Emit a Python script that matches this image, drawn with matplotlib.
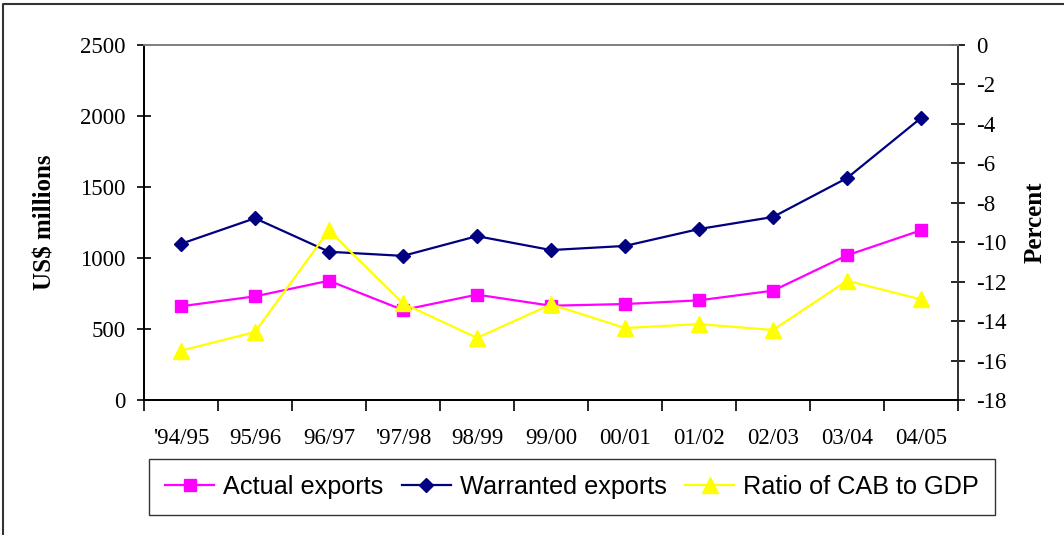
import numpy as np
import matplotlib
matplotlib.use("Agg")
import matplotlib.pyplot as plt
from matplotlib.lines import Line2D

years = ["'94/95", "95/96", "96/97", "'97/98", "98/99", "99/00",
         "00/01", "01/02", "02/03", "03/04", "04/05"]
actual_exports = [660, 730, 840, 634, 742, 664, 676, 702, 770, 1019, 1195]
warranted_exports = [1100, 1280, 1044, 1015, 1154, 1056, 1085, 1204, 1289, 1563, 1986]
cab_ratio = [-15.5, -14.55, -9.4, -13.1, -14.85, -13.15, -14.35, -14.15, -14.45, -11.95, -12.9]

left_ticks = [0, 500, 1000, 1500, 2000, 2500]
right_ticks = [0, -2, -4, -6, -8, -10, -12, -14, -16, -18]


def set_style():
    rc = {
        "font.family": ["Liberation Serif", "DejaVu Serif"],
        "axes.unicode_minus": False,
        "axes.linewidth": 1.3,
        "xtick.major.width": 1.2,
        "ytick.major.width": 1.2,
        "xtick.minor.width": 1.2,
    }
    plt.rcParams.update(rc)


def make_chart():
    set_style()
    fig = plt.figure(figsize=(10.64, 5.35), dpi=100)
    ax = fig.add_axes([0.1353, 0.2523, 0.7651, 0.6636])
    ax2 = ax.twinx()

    x = np.arange(len(years))

    l1, = ax.plot(x, actual_exports, color="#FF00FF", lw=1.6, marker="s",
                  ms=9, label="Actual exports")
    l2, = ax.plot(x, warranted_exports, color="#000080", lw=1.6, marker="D",
                  ms=7.5, label="Warranted exports")
    l3, = ax2.plot(x, cab_ratio, color="#FFFF00", lw=1.6, marker="^",
                   ms=11, label="Ratio of CAB to GDP")

    ax.set_xlim(-0.5, len(years) - 0.5)
    ax.set_ylim(0, 2500)
    ax2.set_ylim(-18, 0)

    ax.set_yticks(left_ticks)
    ax2.set_yticks(right_ticks)
    ax.set_xticks(x)
    ax.set_xticklabels(years)
    ax.set_xticks(np.arange(-0.5, len(years), 1.0), minor=True)

    ax.tick_params(axis="x", which="major", length=0, pad=20, labelsize=16.5)
    ax.tick_params(axis="x", which="minor", length=8, direction="out")
    ax.tick_params(axis="y", direction="inout", length=10, pad=8, labelsize=16.5)
    ax2.tick_params(axis="y", direction="inout", length=10, pad=8, labelsize=16.5)

    for a in (ax, ax2):
        a.spines["top"].set_color("#808080")
        a.spines["left"].set_color("black")
        a.spines["bottom"].set_color("black")
        a.spines["right"].set_color("#333333")

    ax.set_ylabel("US$ millions", fontsize=18, fontweight="bold")
    ax.yaxis.set_label_coords(-0.108, 0.5)
    ax2.set_ylabel("Percent", fontsize=18, fontweight="bold", rotation=90)
    ax2.yaxis.set_label_coords(1.080, 0.5)

    leg = fig.legend(handles=[l1, l2, l3], loc="center", ncol=3,
                     bbox_to_anchor=(0.5376, 0.0897),
                     prop={"family": "Liberation Sans", "size": 18.2},
                     frameon=True, fancybox=False, handlelength=1.95,
                     handletextpad=0.35, columnspacing=0.72, borderpad=0.62)
    leg.get_frame().set_edgecolor("black")
    leg.get_frame().set_linewidth(1.0)

    # outer chart frame (left and top edges visible)
    fig.add_artist(Line2D([3 / 1064, 3 / 1064, 1.0], [0.0, 1 - 4 / 535, 1 - 4 / 535],
                          transform=fig.transFigure, color="#333333", lw=1.5))

    fig.savefig("out.png", dpi=100)


if __name__ == "__main__":
    make_chart()
